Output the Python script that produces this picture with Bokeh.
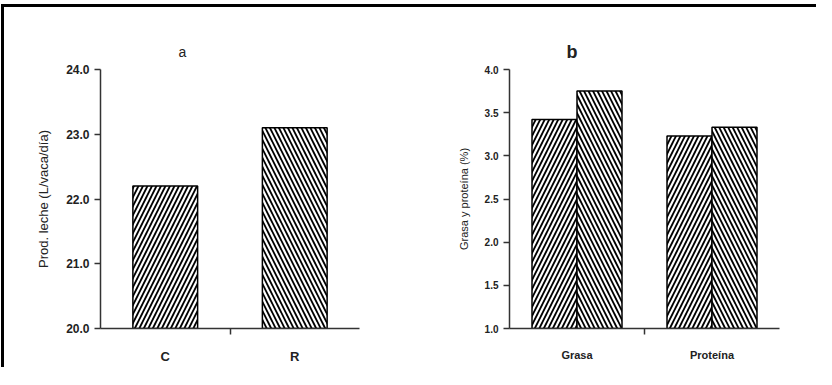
from bokeh.plotting import figure
from bokeh.layouts import row
from bokeh.models import Range1d, FixedTicker, Legend, LegendItem, ColumnDataSource
from bokeh.embed import file_html
from bokeh.resources import INLINE

# ---- data ----
cats_a = ["C", "R"]
milk = [22.2, 23.1]
ticks_a = [20.0, 21.0, 22.0, 23.0, 24.0]

cats_b = ["Grasa", "Proteína"]
series_b = ["C", "R"]
fat_prot_C = [3.42, 3.23]
fat_prot_R = [3.75, 3.33]
ticks_b = [1.0, 1.5, 2.0, 2.5, 3.0, 3.5, 4.0]

hatches = {"C": "/", "R": "\\"}
FONT = "Liberation Sans"
TXT = "#222222"
AX = "#333333"


def style(p, tick_size, lab_size, cat_size, yticks, cats):
    p.xgrid.visible = False
    p.ygrid.visible = False
    p.outline_line_color = None
    p.background_fill_color = "white"
    p.border_fill_color = "white"
    for ax in (p.xaxis[0], p.yaxis[0]):
        ax.axis_line_color = AX
        ax.axis_line_width = 1.5
        ax.major_tick_line_color = AX
        ax.major_tick_line_width = 1.5
        ax.minor_tick_line_color = AX
        ax.minor_tick_line_width = 1.5
        ax.major_label_text_font = FONT
        ax.major_label_text_color = TXT
        ax.axis_label_text_font = FONT
        ax.axis_label_text_color = TXT
        ax.axis_label_text_font_style = "normal"
    ya = p.yaxis[0]
    ya.ticker = FixedTicker(ticks=yticks, minor_ticks=[])
    ya.major_tick_in = 0
    ya.major_tick_out = 6
    ya.major_label_text_font_size = tick_size
    ya.major_label_text_font_style = "bold"
    ya.axis_label_text_font_size = lab_size
    ya.axis_label_standoff = 12
    from bokeh.models import NumeralTickFormatter
    ya.formatter = NumeralTickFormatter(format="0.0")
    xa = p.xaxis[0]
    centers = [2 * i + 1 for i in range(len(cats))]
    between = [2 * i + 2 for i in range(len(cats) - 1)]
    xa.ticker = FixedTicker(ticks=centers, minor_ticks=between)
    xa.major_label_overrides = {c: name for c, name in zip(centers, cats)}
    xa.major_tick_in = 0
    xa.major_tick_out = 0
    xa.minor_tick_in = 0
    xa.minor_tick_out = 6
    xa.major_label_text_font_size = cat_size
    xa.major_label_text_font_style = "bold"
    xa.major_label_standoff = 14


# ---- panel a ----
pa = figure(width=400, height=360, output_backend="svg", toolbar_location=None,
            x_range=Range1d(0, 2 * len(cats_a)), y_range=Range1d(ticks_a[0], ticks_a[-1]),
            min_border_left=96, min_border_right=45, min_border_top=62, min_border_bottom=39)
xa_pos = [2 * i + 1 for i in range(len(cats_a))]
src_a = ColumnDataSource(dict(x=xa_pos, top=milk, h=[hatches[c] for c in cats_a]))
pa.vbar(x="x", top="top", bottom=ticks_a[0], width=1.0, source=src_a,
        fill_color="white", line_color="black", line_width=1.5,
        hatch_pattern="h", hatch_color="black", hatch_scale=9, hatch_weight=1.8)
pa.yaxis.axis_label = "Prod. leche (L/vaca/día)"
style(pa, "12px", "13px", "13px", ticks_a, cats_a)
pa.title.text = "a"
pa.title.align = "left"
pa.title.offset = 78
pa.title.text_font = FONT
pa.title.text_font_size = "14px"
pa.title.text_font_style = "normal"
pa.title.text_color = TXT
pa.title.standoff = 20

# ---- panel b ----
pb = figure(width=412, height=360, output_backend="svg", toolbar_location=None,
            x_range=Range1d(0, 2 * len(cats_b)), y_range=Range1d(ticks_b[0], ticks_b[-1]),
            min_border_left=105, min_border_right=37, min_border_top=62, min_border_bottom=39)
centers_b = [2 * i + 1 for i in range(len(cats_b))]
bw = 2.0 / 3.0
rends = []
for k, (s, vals) in enumerate(zip(series_b, [fat_prot_C, fat_prot_R])):
    xs = [c + (k - 0.5) * bw for c in centers_b]
    r = pb.vbar(x=xs, top=vals, bottom=ticks_b[0], width=bw,
                fill_color="white", line_color="black", line_width=1.5,
                hatch_pattern=hatches[s], hatch_color="black", hatch_scale=9, hatch_weight=1.8)
    rends.append(r)
pb.yaxis.axis_label = "Grasa y proteína (%)"
style(pb, "10px", "11px", "11px", ticks_b, cats_b)
pb.title.text = "b"
pb.title.align = "left"
pb.title.offset = 57
pb.title.text_font = FONT
pb.title.text_font_size = "18px"
pb.title.text_font_style = "bold"
pb.title.text_color = TXT
pb.title.standoff = 16

leg = Legend(items=[LegendItem(label=s, renderers=[r]) for s, r in zip(series_b, rends)],
             location=(278, 105), orientation="vertical",
             glyph_width=12, glyph_height=12, label_text_font=FONT, label_text_font_size="10px",
             label_text_color=TXT, spacing=2, padding=0, margin=0, label_standoff=3,
             border_line_color=None, background_fill_alpha=0)
pb.add_layout(leg, "center")

layout = row(pa, pb, styles={"border-top": "3px solid black", "border-left": "3px solid black",
                             "margin-top": "4px", "margin-left": "1px"})

open("out.html", "w").write(file_html(layout, INLINE))
